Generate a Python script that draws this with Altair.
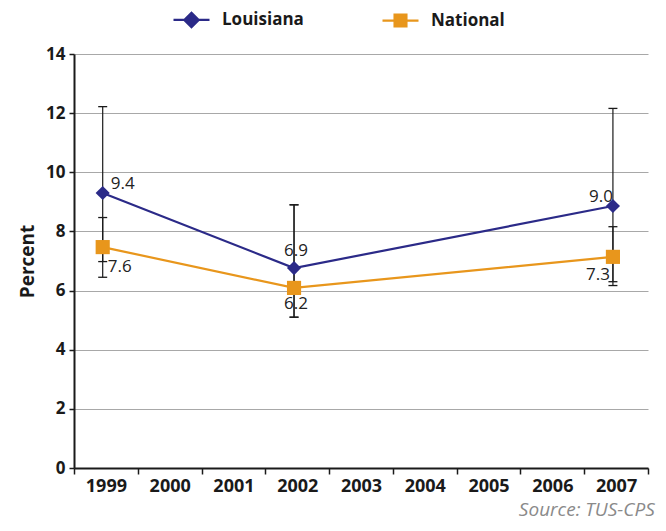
import altair as alt
import pandas as pd

# ---- data ----
years = ["1999", "2000", "2001", "2002", "2003", "2004", "2005", "2006", "2007"]
point_years = ["1999", "2002", "2007"]
series_names = ["Louisiana", "National"]
louisiana = [9.3, 6.76, 8.86]
national = [7.47, 6.09, 7.14]
louisiana_labels = ["9.4", "6.9", "9.0"]
national_labels = ["7.6", "6.2", "7.3"]
louisiana_low = [6.45, 5.1, 6.3]
louisiana_high = [12.22, 8.9, 12.16]
national_low = [6.98, 5.1, 6.17]
national_high = [8.47, 8.9, 8.16]
y_ticks = [0, 2, 4, 6, 8, 10, 12, 14]

colors = ["#2b2a88", "#e8961c"]
FONT = "Open Sans"

rows = []
for s, vals, labs, lo, hi in [
    ("Louisiana", louisiana, louisiana_labels, louisiana_low, louisiana_high),
    ("National", national, national_labels, national_low, national_high),
]:
    for i, y in enumerate(point_years):
        rows.append({"series": s, "year": y, "value": vals[i], "label": labs[i],
                     "low": lo[i], "high": hi[i], "idx": i})
df = pd.DataFrame(rows)

x_enc = alt.X(
    "year:O",
    bandPosition=0.45,
    scale=alt.Scale(type="band", domain=years, paddingInner=0, paddingOuter=0),
    axis=alt.Axis(
        title=None, labelAngle=0, labelFont=FONT, labelFontWeight="bold",
        labelFontSize=18, labelColor="#1a1a1a", tickBand="extent",
        tickColor="#1a1a1a", tickSize=6, tickWidth=1.5, domainColor="#1a1a1a",
        domainWidth=2, labelPadding=3, grid=False,
    ),
)

def y_enc(field):
    return alt.Y(
        f"{field}:Q",
        scale=alt.Scale(domain=[0, 14], nice=False, zero=True),
        axis=alt.Axis(
            title="Percent", titleFont=FONT, titleFontSize=19, titleFontWeight="bold",
            titleColor="#1a1a1a", titlePadding=8, values=y_ticks, labelFont=FONT,
            labelFontWeight="bold", labelFontSize=17, labelColor="#1a1a1a",
            labelPadding=4, grid=True, gridColor="#a8a8a8", gridWidth=1,
            tickColor="#1a1a1a", tickSize=5, tickWidth=1.5,
            domainColor="#1a1a1a", domainWidth=2,
        ),
    )

color_scale = alt.Scale(domain=series_names, range=colors)

base = alt.Chart(df)

lines = base.mark_line(strokeWidth=2.2).encode(
    x=x_enc, y=y_enc("value"),
    color=alt.Color("series:N", scale=color_scale, legend=None),
)

err_rule = base.mark_rule(color="#1a1a1a", strokeWidth=1.2).encode(
    x=x_enc, y=y_enc("low"), y2="high:Q",
)
CAP = "M-1,0L1,0"
cap_low = base.mark_point(shape=CAP, size=81, color="#1a1a1a", strokeWidth=1.3, opacity=1).encode(
    x=x_enc, y=y_enc("low"),
)
cap_high = base.mark_point(shape=CAP, size=81, color="#1a1a1a", strokeWidth=1.3, opacity=1).encode(
    x=x_enc, y=y_enc("high"),
)

points = base.mark_point(filled=True, size=200, opacity=1).encode(
    x=x_enc, y=y_enc("value"),
    color=alt.Color("series:N", scale=color_scale, legend=None),
    shape=alt.Shape("series:N", scale=alt.Scale(domain=series_names, range=["diamond", "square"]), legend=None),
)

leg = alt.Legend(
    title=None, orient="none", legendX=107, legendY=-45, direction="horizontal",
    labelFont=FONT, labelFontSize=17, labelFontWeight="bold", labelColor="#1a1a1a",
    symbolSize=324, symbolStrokeWidth=2.2, symbolOpacity=1, labelOffset=20,
    columnPadding=74, labelLimit=300,
)
legend_paths = [
    "M-2,0L2,0M0,-0.8L0.8,0L0,0.8L-0.8,0Z",
    "M-2,0L2,0M-0.66,-0.66L0.66,-0.66L0.66,0.66L-0.66,0.66Z",
]
legend_layer = base.mark_point(opacity=0, strokeWidth=2.2).encode(
    x=x_enc, y=y_enc("value"),
    fill=alt.Fill("series:N", scale=alt.Scale(domain=series_names, range=colors), legend=leg),
    stroke=alt.Stroke("series:N", scale=alt.Scale(domain=series_names, range=colors), legend=leg),
    shape=alt.Shape("series:N", scale=alt.Scale(domain=series_names, range=legend_paths), legend=leg),
)

# data labels
label_specs = [
    ("Louisiana", 0, dict(align="left", baseline="alphabetic", dx=8, dy=-4)),
    ("Louisiana", 1, dict(align="center", baseline="alphabetic", dx=2, dy=-12)),
    ("Louisiana", 2, dict(align="right", baseline="alphabetic", dx=0, dy=-4)),
    ("National", 0, dict(align="left", baseline="alphabetic", dx=5, dy=25)),
    ("National", 1, dict(align="center", baseline="alphabetic", dx=2, dy=21)),
    ("National", 2, dict(align="right", baseline="alphabetic", dx=-3, dy=23)),
]
text_layers = []
for s, i, kw in label_specs:
    text_layers.append(
        base.transform_filter(
            (alt.datum.series == s) & (alt.datum.idx == i)
        ).mark_text(font=FONT, fontSize=17, color="#222222", **kw).encode(
            x=x_enc, y=y_enc("value"), text="label:N",
        )
    )

chart = alt.layer(
    err_rule, cap_low, cap_high, lines, points, legend_layer, *text_layers
).resolve_scale(
    color="independent", shape="independent", fill="independent", stroke="independent"
).properties(
    width=574, height=414,
    autosize=alt.AutoSizeParams(type="none"),
    padding={"left": 66, "top": 46, "right": 10, "bottom": 55},
    title=alt.TitleParams(
        "Source: TUS-CPS", orient="bottom", anchor="end", font=FONT, fontSize=19,
        fontStyle="italic", fontWeight="normal", color="#8a8a8a", offset=6, dx=6,
    ),
).configure_view(stroke=None)

chart.save("out.html", embed_options={"renderer": "svg", "actions": False})
